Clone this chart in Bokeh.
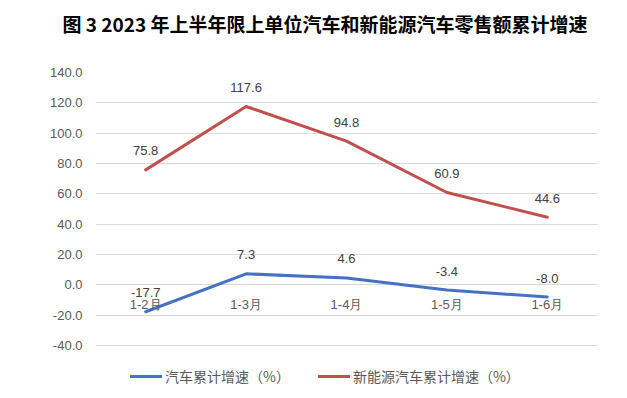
from bokeh.plotting import figure
from bokeh.models import FactorRange, Range1d, PrintfTickFormatter, Legend, LegendItem, ColumnDataSource
from bokeh.core.properties import value
from bokeh.embed import file_html
from bokeh.resources import INLINE

categories = ["1-2月", "1-3月", "1-4月", "1-5月", "1-6月"]
auto_growth = [-17.7, 7.3, 4.6, -3.4, -8.0]
nev_growth = [75.8, 117.6, 94.8, 60.9, 44.6]
y_ticks = [-40, -20, 0, 20, 40, 60, 80, 100, 120, 140]
title_text = "图 3  2023 年上半年限上单位汽车和新能源汽车零售额累计增速"
legend_labels = ["汽车累计增速（%）", "新能源汽车累计增速（%）"]

BLUE = "#4472C4"
RED = "#C0504D"
NUM_FONT = "Liberation Sans"
CJK_FONT = "Noto Sans CJK SC"

p = figure(width=627, height=398, output_backend="svg", toolbar_location=None,
           x_range=FactorRange(*categories, range_padding=0),
           y_range=Range1d(-74.9, 140),
           min_border_left=95, min_border_right=30, min_border_top=72, min_border_bottom=0)
p.outline_line_color = None
p.background_fill_color = "white"
p.border_fill_color = "white"

# title (the figure's own title); a blank second line lifts it toward the top
p.title.text = title_text + "\n "
p.title.align = "left"
p.title.offset = -33
p.title.vertical_align = "top"
p.title.standoff = 14
p.title.text_font = CJK_FONT
p.title.text_font_size = "19px"
p.title.text_font_style = "bold"
p.title.text_color = "#000000"

# axes
p.yaxis.ticker = y_ticks
p.yaxis.formatter = PrintfTickFormatter(format="%.1f")
p.yaxis.axis_line_color = None
p.yaxis.major_tick_line_color = None
p.yaxis.minor_tick_line_color = None
p.yaxis.major_label_text_font = NUM_FONT
p.yaxis.major_label_text_font_size = "13px"
p.yaxis.major_label_text_color = "#595959"
p.yaxis.major_label_standoff = 7

p.xaxis.fixed_location = 0
p.xaxis.axis_line_color = None
p.xaxis.major_tick_line_color = None
p.xaxis.minor_tick_line_color = None
p.xaxis.major_label_text_font = NUM_FONT
p.xaxis.major_label_text_font_size = "13px"
p.xaxis.major_label_text_color = "#595959"
p.xaxis.major_label_standoff = 6

p.xgrid.grid_line_color = None
p.ygrid.ticker = y_ticks
p.ygrid.grid_line_color = "#D9D9D9"
p.ygrid.grid_line_width = 1

src = ColumnDataSource(dict(
    x=categories,
    auto=auto_growth,
    nev=nev_growth,
    auto_lbl=["%.1f" % v for v in auto_growth],
    nev_lbl=["%.1f" % v for v in nev_growth],
))

r_auto = p.line("x", "auto", source=src, line_color=BLUE, line_width=3, line_cap="round", line_join="round")
r_nev = p.line("x", "nev", source=src, line_color=RED, line_width=3, line_cap="round", line_join="round")

for col, lbl in (("auto", "auto_lbl"), ("nev", "nev_lbl")):
    p.text(x="x", y=col, text=lbl, source=src, text_align="center", text_baseline="middle",
           y_offset=-19, text_font=value(NUM_FONT), text_font_size="13px", text_color="#404040")

legend = Legend(items=[LegendItem(label=legend_labels[0], renderers=[r_auto]),
                       LegendItem(label=legend_labels[1], renderers=[r_nev])],
                location=(35, 12), orientation="horizontal",
                border_line_color=None, background_fill_alpha=0,
                padding=0, margin=0, spacing=28, glyph_width=32, glyph_height=20,
                label_standoff=3, label_text_font=CJK_FONT, label_text_font_size="14px",
                label_text_color="#595959")
p.add_layout(legend, "center")

open("out.html", "w").write(file_html(p, INLINE))
